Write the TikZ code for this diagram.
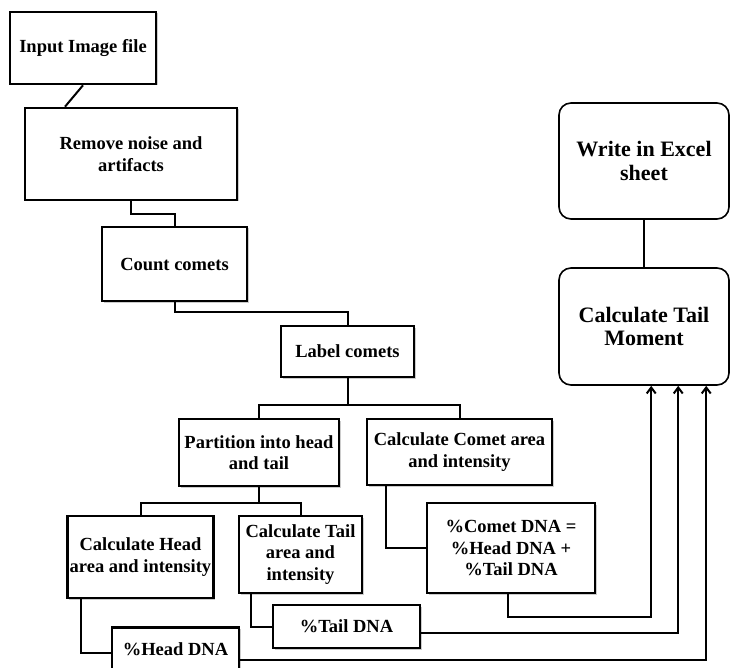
\documentclass[tikz,border=0pt]{standalone}
\usepackage{fontspec}
\setmainfont{Liberation Serif}
\usetikzlibrary{arrows.meta, positioning, calc, shadows}

\begin{document}
\begin{tikzpicture}[x=1pt, y=-1pt,
    box/.style={draw, line width=2.6pt, fill=white, align=center, inner sep=2pt,
        font=\fontsize{18.5}{21.5}\selectfont\bfseries,
        drop shadow={shadow xshift=1.5pt, shadow yshift=-1.5pt, fill=black!40, opacity=0.5}},
    rbox/.style={draw, line width=1.6pt, rounded corners=12pt, fill=white, align=center,
        font=\fontsize{22}{23.5}\selectfont\bfseries},
    link/.style={line width=2pt},
    feed/.style={line width=2pt, -{Straight Barb[length=6pt, width=9pt]}}]
    \useasboundingbox (0,0) rectangle (730,668);

    % Left column: image preparation
    \node[box, minimum width=146pt, minimum height=72pt] (input) at (83,48) {Input Image file};
    \node[box, minimum width=212pt, minimum height=92pt] (noise) at (131,154) {Remove noise and\\artifacts};
    \node[box, minimum width=145pt, minimum height=74pt] (count) at (174.5,264) {Count comets};
    \node[box, minimum width=133pt, minimum height=51pt] (label) at (347.5,351.5) {Label comets};

    % Head / tail / comet measurements
    \node[box, minimum width=160pt, minimum height=67pt] (part) at (259,452.5) {Partition into head\\and tail};
    \node[box, minimum width=185pt, minimum height=66pt] (comet) at (459.5,452) {Calculate Comet area\\and intensity};
    \node[box, minimum width=145pt, minimum height=82pt] (head) at (140.5,557) {Calculate Head\\area and intensity};
    \node[box, minimum width=123pt, minimum height=77pt] (tail) at (300.5,554.5) {Calculate Tail\\area and\\intensity};

    % DNA percentages
    \node[box, minimum width=168pt, minimum height=90pt] (cometdna) at (511,548) {\%Comet DNA =\\\%Head DNA +\\\%Tail DNA};
    \node[box, minimum width=147pt, minimum height=43pt] (taildna) at (346.5,626.5) {\%Tail DNA};
    \node[box, minimum width=127pt, minimum height=51pt, text depth=8pt] (headdna) at (175.5,653) {\%Head DNA};

    % Right column: output
    \node[rbox, minimum width=170pt, minimum height=116pt] (excel) at (644,161) {Write in Excel\\sheet};
    \node[rbox, minimum width=170pt, minimum height=117pt] (moment) at (644,326.5) {Calculate Tail\\Moment};

    \draw[link] (input.south) -- ($(noise.north)+(-66,0)$);
    \draw[link] (noise.south) -- ++(0,13) -| (count.north);
    \draw[link] (count.south) -- ++(0,10) -| (label.north);
    \draw[link] (label.south) -- ++(0,27) coordinate (split1);
    \draw[link] (split1) -| (part.north);
    \draw[link] (split1) -| (comet.north);
    \draw[link] (part.south) -- ++(0,16) coordinate (split2);
    \draw[link] (split2) -| (head.north);
    \draw[link] (split2) -| (tail.north);
    \draw[link] ($(comet.south west)+(20,0)$) |- (cometdna.west);
    \draw[link] ($(head.south west)+(15,0)$) |- (headdna.west);
    \draw[link] ($(tail.south west)+(13,0)$) |- (taildna.west);
    \draw[link] (excel.south) -- (moment.north);

    % Feeds into the tail moment
    \draw[feed] ($(cometdna.south)+(-3,0)$) -- ++(0,23) -| ($(moment.south west)+(93,0)$);
    \draw[feed] ($(taildna.east)+(0,6)$) -| ($(moment.south west)+(120,0)$);
    \draw[feed] ($(headdna.east)+(0,7)$) -| ($(moment.south west)+(148,0)$);
\end{tikzpicture}
\end{document}
